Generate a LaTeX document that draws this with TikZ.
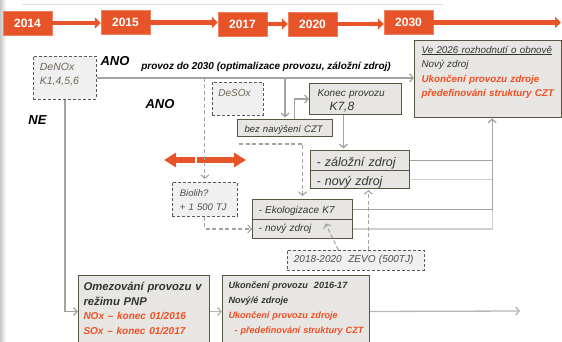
\documentclass[tikz,border=0pt]{standalone}
\usepackage{fontspec}
\setmainfont{Liberation Sans}
\usetikzlibrary{arrows.meta}

\definecolor{orng}{HTML}{E8542A}
\definecolor{otext}{HTML}{F04E23}
\definecolor{boxfill}{HTML}{E7E6E3}
\definecolor{boxline}{HTML}{5A5447}
\definecolor{linkgray}{HTML}{A3A3A3}
\definecolor{linklight}{HTML}{CFCFCF}
\definecolor{notegray}{HTML}{6C6556}

\begin{document}
\begin{tikzpicture}[x=1pt,y=-1pt,
        year/.style={rectangle,fill=orng,draw=orng!75!white,text=white,inner sep=0pt,
            font=\bfseries\fontsize{12}{14}\selectfont,minimum width=49pt,minimum height=24pt},
        yarrow/.style={draw=orng,line width=4.5pt,-{Triangle[length=6pt,width=11pt]}},
        oarrow/.style={draw=orng,line width=5.5pt,-{Triangle[length=12pt,width=14pt]}},
        plan/.style={rectangle,draw=boxline,fill=boxfill,line width=1pt,anchor=north west,
            align=left,inner ysep=0pt,text=black!80},
        idea/.style={rectangle,draw=black!65,dash pattern=on 3pt off 2pt,fill=black!6,line width=0.8pt,
            anchor=north west,align=left,inner ysep=0pt},
        lbl/.style={inner sep=0pt,font=\bfseries\itshape\fontsize{13}{15}\selectfont},
        wire/.style={draw=linkgray,line width=1.3pt},
        dwire/.style={wire,dash pattern=on 4pt off 2.5pt,line width=1.1pt},
        tip/.style={-{Straight Barb[length=3.5pt,width=8pt]}}]

    \useasboundingbox (0,0) rectangle (562,342);
    \clip (0,0) rectangle (562,342);
    \shade[left color=black!22,right color=white] (0,0) rectangle (6,342);
    \draw[black!12,line width=0.8pt] (22,4) -- (443,4);

    \node[year] (y2014) at (27.5,23) {2014};
    \node[year] (y2015) at (125.5,22.5) {2015};
    \node[year] (y2017) at (242.5,24) {2017};
    \node[year] (y2020) at (312.5,24) {2020};
    \node[year] (y2030) at (408.5,22.5) {2030};
    \coordinate (yend) at (561,23);

    \draw[yarrow] (y2014.east) -- (y2014.east -| y2015.west);
    \draw[yarrow] (y2015.east) -- (y2015.east -| y2017.west);
    \draw[yarrow] (y2017.east) -- (y2017.east -| y2020.west);
    \draw[yarrow] (y2020.east) -- (y2020.east -| y2030.west);
    \draw[yarrow] (y2030.east) -- (y2030.east -| yend);

    \node[plan,line width=1.3pt,text width=133pt,inner xsep=7pt,text height=12.5pt,text depth=64.5pt,
        font=\itshape\fontsize{9.8}{14.5}\selectfont] (ve) at (414,40)
        {\underline{Ve 2026 rozhodnutí o obnově}\\
         Nový zdroj\\
         \textcolor{otext}{\bfseries Ukončení provozu zdroje}\\
         \mbox{\textcolor{otext}{\bfseries předefinování struktury CZT}}};

    \node[idea,text width=50pt,inner xsep=6.5pt,text height=14.5pt,text depth=28.5pt,text=notegray,
        font=\itshape\fontsize{10.5}{14}\selectfont] (denox) at (33,56) {DeNOx\\K1,4,5,6};
    \node[idea,text width=39pt,inner xsep=6pt,text height=14.5pt,text depth=18.5pt,text=notegray,
        font=\itshape\fontsize{10}{14}\selectfont] (desox) at (212,82) {DeSOx};

    \node[lbl] (ano1) at (115,61.5) {ANO};
    \node[lbl] (ano2) at (160,104) {ANO};
    \node[lbl] (ne) at (37.5,120) {NE};
    \node[lbl,font=\bfseries\itshape\fontsize{10}{12}\selectfont] (provoz) at (266,66.5)
        {provoz do 2030 (optimalizace provozu, záložní zdroj)};

    \node[plan,text width=76pt,inner xsep=8pt,text height=13.3pt,text depth=17.7pt,
        font=\itshape\fontsize{10}{14}\selectfont] (konec) at (309,83)
        {Konec provozu\\\hspace*{12pt}{\fontsize{12}{14}\selectfont K7,8}};
    \node[plan,text width=81pt,inner xsep=7pt,text height=12.5pt,text depth=4.5pt,
        font=\itshape\fontsize{9.5}{12}\selectfont] (bez) at (237,119) {bez navýšení CZT};

    \node[plan,text width=87pt,inner xsep=6pt,text height=15.6pt,text depth=4.4pt,
        font=\itshape\fontsize{12.5}{14}\selectfont] (zal) at (310,150) {- záložní zdroj};
    \node[plan,text width=87pt,inner xsep=6pt,text height=15pt,text depth=3pt,
        font=\itshape\fontsize{12.5}{14}\selectfont] (nov1) at (310,170) {- nový zdroj};

    \node[plan,text width=88pt,inner xsep=6pt,text height=13.5pt,text depth=6.5pt,
        font=\itshape\fontsize{10}{12}\selectfont] (eko) at (252,199) {- Ekologizace K7};
    \node[plan,text width=88pt,inner xsep=6pt,text height=12.3pt,text depth=6.7pt,
        font=\itshape\fontsize{10}{12}\selectfont] (nov2) at (252,219) {- nový zdroj};

    \node[idea,text width=50pt,inner xsep=7.5pt,text height=14.5pt,text depth=19.5pt,text=black!70,
        font=\itshape\fontsize{9.5}{13.5}\selectfont] (biolih) at (172,182) {Biolih?\\+ 1 500 TJ};
    \node[idea,text width=124pt,inner xsep=6.5pt,text height=12.5pt,text depth=7.5pt,text=black!70,
        font=\itshape\fontsize{10}{12}\selectfont] (zevo) at (287,250) {2018-2020~ ZEVO (500TJ)};

    \node[plan,text width=121pt,inner xsep=5pt,text height=15pt,text depth=57pt,
        font=\bfseries\itshape\fontsize{11.3}{14.7}\selectfont] (omez) at (78,275)
        {\mbox{Omezování provozu v}\\
         režimu PNP\\
         {\color{otext}\fontsize{10}{14.7}\selectfont NOx – konec 01/2016}\\
         {\color{otext}\fontsize{10}{14.7}\selectfont SOx – konec 01/2017}};
    \node[plan,text width=137pt,inner xsep=5pt,text height=13.4pt,text depth=58.6pt,
        font=\bfseries\itshape\fontsize{9.1}{14.8}\selectfont] (ukon) at (222,275)
        {\hspace*{1pt}Ukončení provozu~ 2016-17\\
         \hspace*{1pt}Nový/é zdroje\\
         \hspace*{1pt}\textcolor{otext}{Ukončení provozu zdroje}\\
         \mbox{\textcolor{otext}{\hspace*{7pt}- předefinování struktury CZT}}};

    \coordinate (oleft) at (164,160);
    \coordinate (omid) at (196,160);
    \coordinate (oright) at (246,160);
    \draw[oarrow] ([xshift=-0.6pt]omid) -- (oleft);
    \draw[oarrow] ([xshift=0.6pt]omid) -- (oright);

    \draw[wire,tip] (denox.east) -- (denox.east -| ve.west);
    \draw[dwire,tip,shorten >=3pt] (biolih.north |- denox.east) -- (biolih.north);
    \draw[wire,tip,shorten >=1.5pt] (bez.north |- denox.east) -- (bez.north);
    \draw[wire,tip] ([xshift=9.5pt]bez.north) |- (konec.west);
    \draw[wire,tip,shorten >=1.5pt] ([xshift=-12pt]konec.south) -- ([xshift=-12pt]konec.south |- zal.north);

    \coordinate (rise) at ([xshift=4pt]ve.south);
    \draw[wire,draw=linklight] (nov2.east) -| (rise |- eko.east);
    \draw[wire,draw=linklight] (nov1.east) -- (nov1.east -| rise);
    \draw[wire] (zal.east) -- (zal.east -| rise);
    \draw[wire,tip] (eko.east) -| (rise);

    \coordinate (dsox) at (239,144);
    \draw[dwire,tip,shorten >=3pt] (dsox) -| (eko.north);
    \draw[dwire,tip] (biolih.south) |- (nov2.west);
    \draw[dwire,tip,shorten >=1pt] ([xshift=12.5pt]zevo.north) -- ([xshift=12.5pt]zevo.north |- nov1.south);
    \draw[dwire,tip] ([xshift=-17.5pt]zevo.north) -- ([xshift=23pt,yshift=5.5pt]nov2.center);

    \draw[wire,tip] (denox.south) |- (omez.west);
    \draw[wire,tip,draw=linkgray!80] (omez.east) -- (ukon.west);
    \coordinate (uend) at (520,311);
    \draw[wire,tip,draw=linkgray!80] (ukon.east) -- (uend);
\end{tikzpicture}
\end{document}
